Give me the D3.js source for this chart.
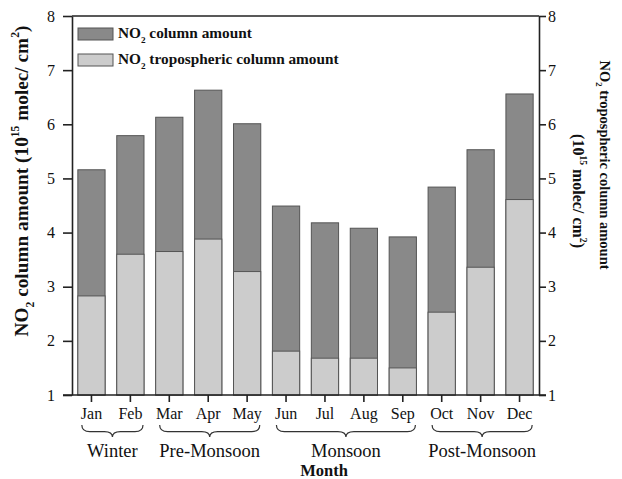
<!DOCTYPE html>
<html>
<head>
<meta charset="utf-8">
<script src="https://cdn.jsdelivr.net/npm/d3@7/dist/d3.min.js"></script>
<style>
  html, body { margin: 0; padding: 0; background: #fff; }
  svg { display: block; }
  text { font-family: "Liberation Serif", "Times New Roman", serif; fill: #111; }
</style>
</head>
<body>
<svg id="chart" width="622" height="479"></svg>
<script>
// Monthly NO2 columns (10^15 molec/cm^2)
const months = ["Jan", "Feb", "Mar", "Apr", "May", "Jun", "Jul", "Aug", "Sep", "Oct", "Nov", "Dec"];
const totalColumn = [5.16, 5.79, 6.13, 6.63, 6.01, 4.49, 4.18, 4.08, 3.92, 4.84, 5.53, 6.56];
const troposphericColumn = [2.83, 3.60, 3.65, 3.88, 3.28, 1.81, 1.68, 1.68, 1.50, 2.53, 3.36, 4.61];
const yTicks = [1, 2, 3, 4, 5, 6, 7, 8];
const seasons = [
  { name: "Winter", from: "Jan", to: "Feb" },
  { name: "Pre-Monsoon", from: "Mar", to: "May" },
  { name: "Monsoon", from: "Jun", to: "Sep" },
  { name: "Post-Monsoon", from: "Oct", to: "Dec" }
];

const svg = d3.select("#chart");
const plotLeft = 72, plotRight = 539, plotTop = 16, plotBottom = 395;

const x = d3.scaleBand().domain(months).range([plotLeft, plotRight])
  .paddingInner(0.3).paddingOuter(0.15);
const y = d3.scaleLinear().domain([1, 8]).range([plotBottom, plotTop]);

const darkFill = "#898989", lightFill = "#cccccc", barStroke = "#555";

// Total column bars
svg.append("g").selectAll("rect").data(months).join("rect")
  .attr("x", d => x(d)).attr("width", x.bandwidth())
  .attr("y", (d, i) => y(totalColumn[i]))
  .attr("height", (d, i) => y(1) - y(totalColumn[i]))
  .attr("fill", darkFill).attr("stroke", barStroke).attr("stroke-width", 1);

// Tropospheric column bars drawn over them
svg.append("g").selectAll("rect").data(months).join("rect")
  .attr("x", d => x(d)).attr("width", x.bandwidth())
  .attr("y", (d, i) => y(troposphericColumn[i]))
  .attr("height", (d, i) => y(1) - y(troposphericColumn[i]))
  .attr("fill", lightFill).attr("stroke", barStroke).attr("stroke-width", 1);

// Axes
const axisStyle = g => {
  g.selectAll("path").attr("stroke", "#222").attr("stroke-width", 1.6);
  g.selectAll("line").attr("stroke", "#222").attr("stroke-width", 1.6);
  g.selectAll("text").attr("font-size", 16).attr("font-family", "Liberation Serif, serif").attr("fill", "#111");
};

svg.append("g").attr("transform", `translate(${plotLeft},0)`)
  .call(d3.axisLeft(y).tickValues(yTicks).tickFormat(d3.format("d")).tickSize(9).tickSizeOuter(0).tickPadding(8))
  .call(axisStyle);

svg.append("g").attr("transform", `translate(${plotRight},0)`)
  .call(d3.axisRight(y).tickValues(yTicks).tickFormat(d3.format("d")).tickSize(7).tickSizeOuter(0).tickPadding(2))
  .call(axisStyle);

const xAxis = svg.append("g").attr("transform", `translate(0,${plotBottom})`)
  .call(d3.axisBottom(x).tickSize(7).tickSizeOuter(0).tickPadding(6))
  .call(axisStyle);
xAxis.select(".domain").remove();

// Bottom and top frame lines
svg.append("line").attr("x1", plotLeft - 9).attr("x2", plotRight + 7)
  .attr("y1", plotBottom).attr("y2", plotBottom).attr("stroke", "#222").attr("stroke-width", 1.6);
svg.append("line").attr("x1", plotLeft).attr("x2", plotRight)
  .attr("y1", plotTop).attr("y2", plotTop).attr("stroke", "#222").attr("stroke-width", 1.6);

// Season braces
function bracePath(x1, x2, y0, h) {
  const xm = (x1 + x2) / 2, q = 8, ym = y0 + h * 0.55;
  return `M${x1},${y0} Q${x1},${ym} ${x1 + q},${ym} L${xm - q},${ym} Q${xm},${ym} ${xm},${y0 + h}` +
         ` Q${xm},${ym} ${xm + q},${ym} L${x2 - q},${ym} Q${x2},${ym} ${x2},${y0}`;
}
const seasonG = svg.append("g");
seasons.forEach(s => {
  const x1 = x(s.from) + 4, x2 = x(s.to) + x.bandwidth() - 1;
  seasonG.append("path").attr("d", bracePath(x1, x2, 425, 12))
    .attr("fill", "none").attr("stroke", "#333").attr("stroke-width", 1.2);
  seasonG.append("text").attr("x", (x1 + x2) / 2).attr("y", 457)
    .attr("text-anchor", "middle").attr("font-size", 18.5).text(s.name);
});

// X title
svg.append("text").attr("x", 324).attr("y", 476).attr("text-anchor", "middle")
  .attr("font-size", 16.5).attr("font-weight", "bold").text("Month");

// Text with sub/superscripts; baseline shifts are undone on the next span
function drawRich(t, parts, size) {
  let shift = 0;
  parts.forEach(p => {
    let dy = 0;
    if (p.sub) dy = size * 0.3; else if (p.sup) dy = -size * 0.45;
    const ts = t.append("tspan").text(p.t).attr("dy", dy - shift);
    if (p.sub || p.sup) ts.attr("font-size", size * 0.6);
    shift = dy;
  });
}

// Left Y title
const lt = svg.append("text").attr("transform", "translate(28,181) rotate(-90)")
  .attr("text-anchor", "middle").attr("font-size", 19.3).attr("font-weight", "bold");
drawRich(lt, [{ t: "NO" }, { t: "2", sub: true }, { t: " column amount (10" }, { t: "15", sup: true },
  { t: " molec/ cm" }, { t: "2", sup: true }, { t: ")" }], 19.3);

// Right Y title (two lines)
const rt1 = svg.append("text").attr("transform", "translate(600,165) rotate(90)")
  .attr("text-anchor", "middle").attr("font-size", 14.5).attr("font-weight", "bold");
drawRich(rt1, [{ t: "NO" }, { t: "2", sub: true }, { t: " tropospheric column amount" }], 14.5);
const rt2 = svg.append("text").attr("transform", "translate(573,191) rotate(90)")
  .attr("text-anchor", "middle").attr("font-size", 16).attr("font-weight", "bold");
drawRich(rt2, [{ t: "(10" }, { t: "15", sup: true }, { t: " molec/ cm" }, { t: "2", sup: true }, { t: ")" }], 16);

// Legend
const legend = [
  { label: " column amount", fill: darkFill },
  { label: " tropospheric column amount", fill: lightFill }
];
legend.forEach((l, i) => {
  const ly = 28 + i * 26;
  svg.append("rect").attr("x", 78).attr("y", ly).attr("width", 35).attr("height", 12)
    .attr("fill", l.fill).attr("stroke", barStroke).attr("stroke-width", 1);
  const t = svg.append("text").attr("x", 118).attr("y", ly + 10)
    .attr("font-size", 15.3).attr("font-weight", "bold");
  drawRich(t, [{ t: "NO" }, { t: "2", sub: true }, { t: l.label }], 15.3);
});
</script>
</body>
</html>
